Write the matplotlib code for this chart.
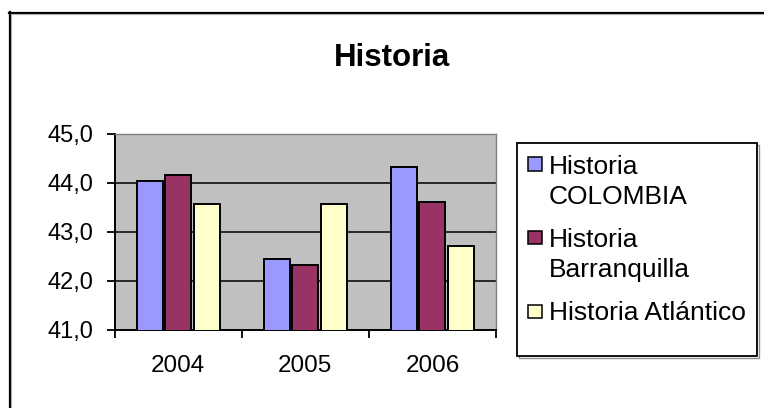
import matplotlib
matplotlib.use("Agg")
import matplotlib.pyplot as plt
from matplotlib.patches import Rectangle
from matplotlib.lines import Line2D
from matplotlib.ticker import FixedLocator, FuncFormatter

plt.rcParams['font.family'] = ['Liberation Sans', 'DejaVu Sans']

title = "Historia"
categories = ["2004", "2005", "2006"]
series_names = ["Historia\nCOLOMBIA", "Historia\nBarranquilla", "Historia Atlántico"]
colombia = [44.03, 42.43, 44.31]
barranquilla = [44.15, 42.31, 43.61]
atlantico = [43.56, 43.56, 42.70]
series_values = [colombia, barranquilla, atlantico]
colors = ["#9999FF", "#993366", "#FFFFCC"]
y_ticks = [41, 42, 43, 44, 45]

W, H = 764, 408
fig = plt.figure(figsize=(W / 100, H / 100), dpi=100)
fig.patch.set_facecolor("white")

def fx(px):
    return px / W

def fy(py):
    return 1 - py / H

ax = fig.add_axes([fx(114.5), fy(329.5), fx(496) - fx(114.5), fy(133.5) - fy(329.5)])
ax.set_facecolor("#C0C0C0")

x = list(range(len(categories)))
width = 0.205
step = 0.224
for i, (vals, col) in enumerate(zip(series_values, colors)):
    xs = [xi + (i - 1) * step for xi in x]
    ax.bar(xs, vals, width=width, color=col, edgecolor="black", linewidth=1.4, zorder=3)

ax.set_xlim(-0.5, len(categories) - 0.5)
ax.set_ylim(y_ticks[0], y_ticks[-1])

ax.yaxis.set_major_locator(FixedLocator(y_ticks))
ax.yaxis.set_major_formatter(FuncFormatter(lambda v, p: f"{v:.1f}".replace(".", ",")))
ax.yaxis.grid(True, color="black", linewidth=1.1, zorder=1)
ax.set_axisbelow(True)

ax.xaxis.set_major_locator(FixedLocator([k - 0.5 for k in range(len(categories) + 1)]))
ax.xaxis.set_major_formatter(FuncFormatter(lambda v, p: ""))
ax.xaxis.set_minor_locator(FixedLocator(x))
ax.set_xticks(x, minor=True)
ax.set_xticklabels(categories, minor=True)

ax.tick_params(axis="y", which="major", direction="out", length=6, width=1.3,
               color="black", labelsize=17, pad=9.5, labelcolor="black")
ax.tick_params(axis="x", which="major", direction="out", length=6, width=1.3, color="black")
ax.tick_params(axis="x", which="minor", length=0, labelsize=17.5, pad=18)

for side in ["left", "bottom"]:
    ax.spines[side].set_color("black")
    ax.spines[side].set_linewidth(1.4)
for side in ["top", "right"]:
    ax.spines[side].set_color("#808080")
    ax.spines[side].set_linewidth(1.0)

# Title
fig.text(fx(392.5), fy(66), title, ha="center", va="baseline",
         fontsize=22.5, fontweight="bold", color="black")

# Outer chart border (left and top only visible)
fig.add_artist(Line2D([fx(9.5), fx(9.5)], [fy(12), 0], color="black", lw=1.6))
fig.add_artist(Line2D([fx(9), 1], [fy(12.5), fy(12.5)], color="black", lw=1.6))
fig.add_artist(Line2D([fx(11), fx(11)], [fy(14), 0], color="#B0B0B0", lw=0.8))
fig.add_artist(Line2D([fx(11), 1], [fy(14), fy(14)], color="#B0B0B0", lw=0.8))

# Legend box
lx0, lx1, ly0, ly1 = 517, 757, 143, 356
fig.add_artist(Rectangle((fx(lx0 + 2), fy(ly1 + 2)), fx(lx1 - lx0), fy(ly0) - fy(ly1),
                         transform=fig.transFigure, facecolor="none", edgecolor="#909090", lw=1.0))
fig.add_artist(Rectangle((fx(lx0), fy(ly1)), fx(lx1 - lx0), fy(ly0) - fy(ly1),
                         transform=fig.transFigure, facecolor="white", edgecolor="black", lw=1.3))

first_center = 164
entry_step = 73.5
line_pitch = 30
legend_fs = 19
for i, (name, col) in enumerate(zip(series_names, colors)):
    cy = first_center + i * entry_step
    fig.add_artist(Rectangle((fx(528), fy(cy + 6.5)), fx(14), fy(cy - 6.5) - fy(cy + 6.5),
                             transform=fig.transFigure, facecolor=col, edgecolor="black", lw=1.1))
    for j, line in enumerate(name.split("\n")):
        fig.text(fx(549), fy(cy + 9.5 + j * line_pitch), line, ha="left", va="baseline",
                 fontsize=legend_fs, color="black")

fig.savefig("out.png", dpi=100, facecolor="white")
